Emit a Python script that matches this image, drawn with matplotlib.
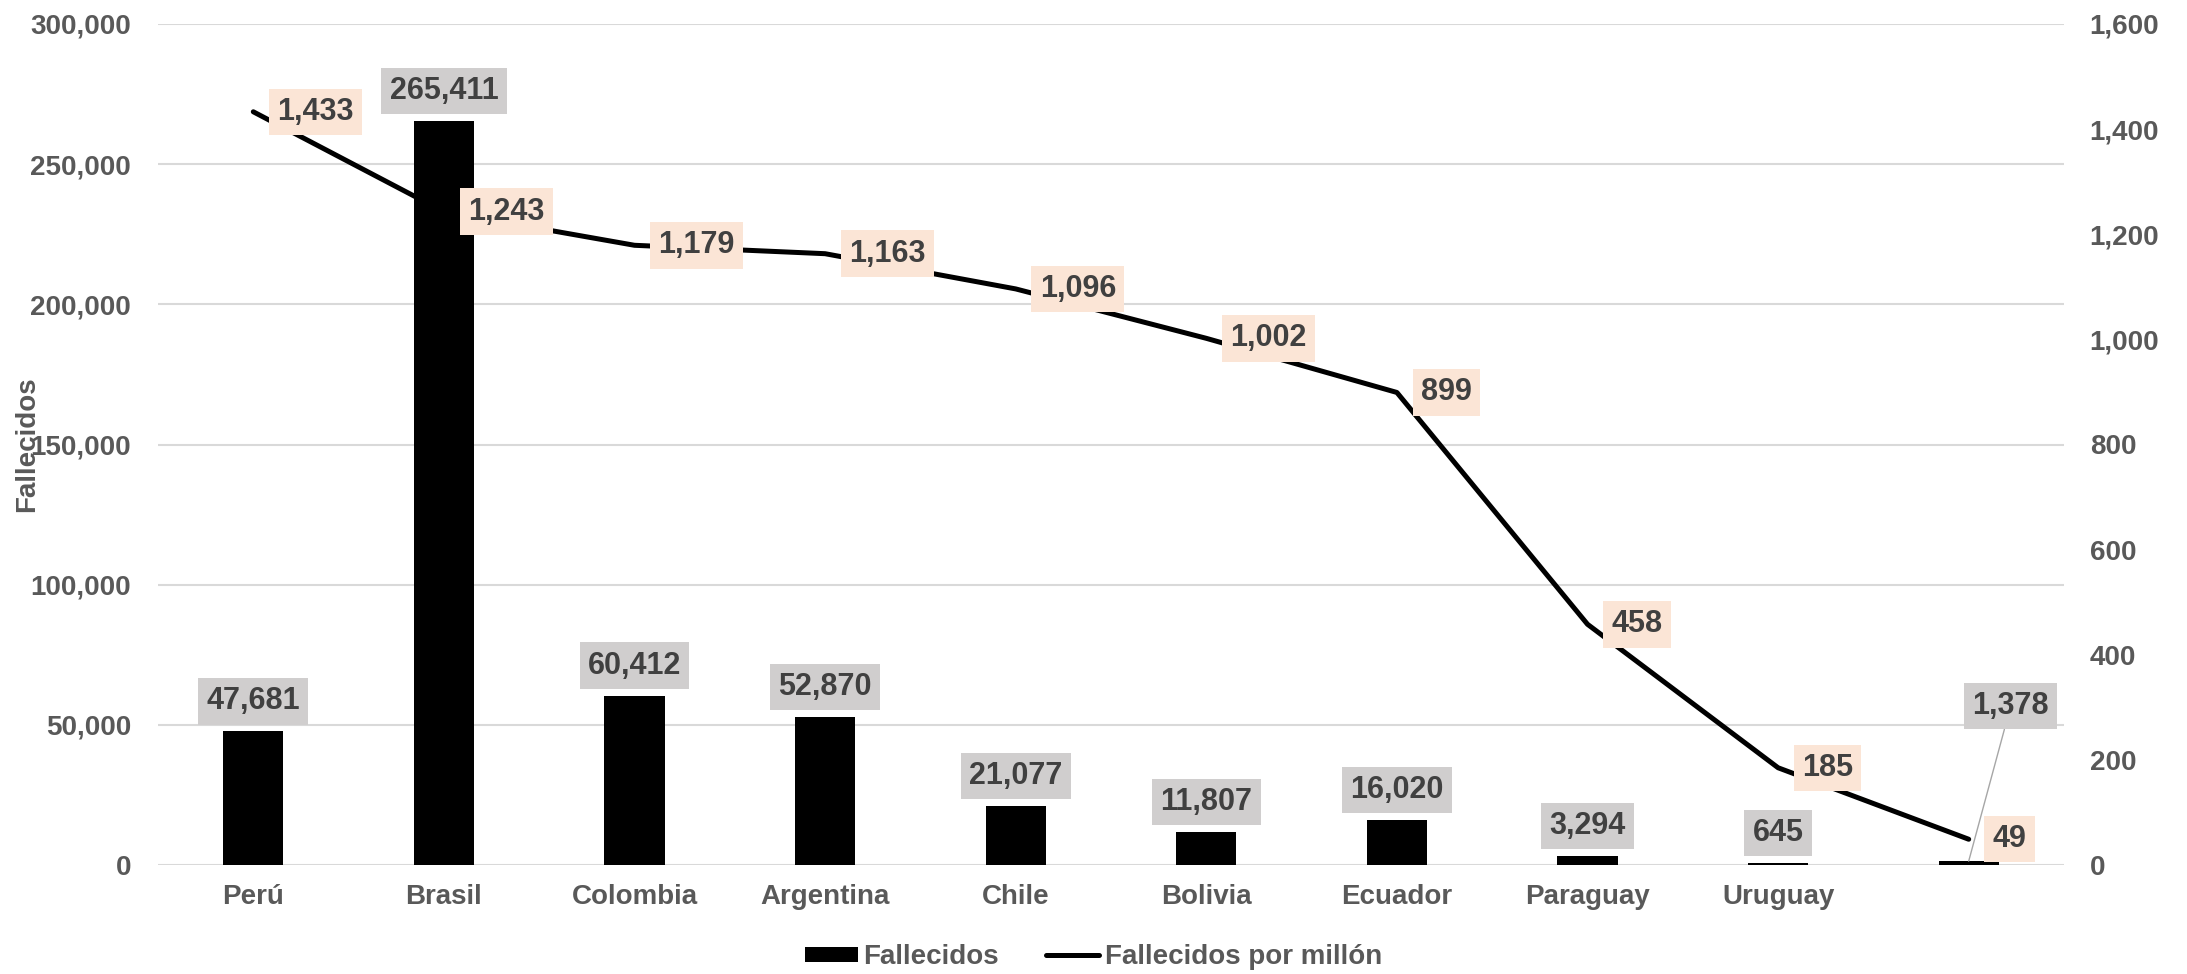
import matplotlib
matplotlib.use("Agg")
import matplotlib.pyplot as plt
from matplotlib.ticker import FuncFormatter, MultipleLocator

plt.rcParams['font.family'] = ['Liberation Sans', 'DejaVu Sans']
plt.rcParams['font.weight'] = 'bold'

categories = ["Perú", "Brasil", "Colombia", "Argentina", "Chile", "Bolivia",
              "Ecuador", "Paraguay", "Uruguay", ""]
fallecidos = [47681, 265411, 60412, 52870, 21077, 11807, 16020, 3294, 645, 1378]
por_millon = [1433, 1243, 1179, 1163, 1096, 1002, 899, 458, 185, 49]

TICK_COLOR = "#595959"
LABEL_COLOR = "#404040"
GREY_BOX = "#D0CECE"
PEACH_BOX = "#FBE5D6"
GRID = "#D9D9D9"

W, H = 2187, 974
fig = plt.figure(figsize=(W / 100, H / 100), dpi=100)
left, right, top, bottom = 158, 2064, 24, 865
ax1 = fig.add_axes([left / W, 1 - bottom / H, (right - left) / W, (bottom - top) / H])
ax2 = ax1.twinx()

x = list(range(len(categories)))
bars = ax1.bar(x, fallecidos, width=0.315, color="black", label="Fallecidos", zorder=2)
line, = ax2.plot(x, por_millon, color="black", lw=3.6, solid_capstyle="round",
                 label="Fallecidos por millón", zorder=3)

ax1.set_xlim(-0.5, len(categories) - 0.5)
ax1.set_ylim(0, 300000)
ax2.set_ylim(0, 1600)
ax1.yaxis.set_major_locator(MultipleLocator(50000))
ax2.yaxis.set_major_locator(MultipleLocator(200))
fmt = FuncFormatter(lambda v, p: f"{int(v):,}")
ax1.yaxis.set_major_formatter(fmt)
ax2.yaxis.set_major_formatter(fmt)

ax1.set_xticks(x)
ax1.set_xticklabels(categories)
ax1.grid(axis="y", color=GRID, lw=1.5, zorder=0)
ax1.set_axisbelow(True)
for ax in (ax1, ax2):
    for s in ax.spines.values():
        s.set_visible(False)
ax1.tick_params(axis="y", length=0, pad=19.5, labelsize=20, labelcolor=TICK_COLOR)
ax2.tick_params(axis="y", length=0, pad=18.5, labelsize=20, labelcolor=TICK_COLOR)
ax1.tick_params(axis="x", length=0, pad=14, labelsize=20, labelcolor=TICK_COLOR)
for lab in ax1.get_xticklabels() + ax1.get_yticklabels() + ax2.get_yticklabels():
    lab.set_fontweight("bold")

fig.text(27 / W, 1 - 444.5 / H, "Fallecidos", rotation=90, ha="center", va="center",
         fontsize=20, color=TICK_COLOR, fontweight="bold")

PAD = 0.27
# bar labels
for i, v in enumerate(fallecidos):
    if i == len(fallecidos) - 1:
        ax2.annotate(f"{v:,}", xy=(i, v), xycoords=ax1.transData,
                     xytext=(42, 155), textcoords="offset pixels",
                     ha="center", va="center", fontsize=22, fontweight="bold",
                     color=LABEL_COLOR, zorder=5,
                     bbox=dict(boxstyle=f"square,pad={PAD}", fc=GREY_BOX, ec="none"),
                     arrowprops=dict(arrowstyle="-", color="#A6A6A6", lw=1.0,
                                     shrinkA=0, shrinkB=0))
    else:
        ax2.annotate(f"{v:,}", xy=(i, v), xycoords=ax1.transData,
                     xytext=(0, 30), textcoords="offset pixels",
                     ha="center", va="center", fontsize=22, fontweight="bold",
                     color=LABEL_COLOR, zorder=5,
                     bbox=dict(boxstyle=f"square,pad={PAD}", fc=GREY_BOX, ec="none"))

# line labels
for i, v in enumerate(por_millon):
    ax2.annotate(f"{v:,}", xy=(i, v), xycoords=ax2.transData,
                 xytext=(24, 0), textcoords="offset pixels",
                 ha="left", va="center", fontsize=22, fontweight="bold",
                 color=LABEL_COLOR, zorder=5,
                 bbox=dict(boxstyle=f"square,pad={PAD}", fc=PEACH_BOX, ec="none"))

leg = fig.legend(handles=[bars, line], labels=["Fallecidos", "Fallecidos por millón"],
                 loc="center", bbox_to_anchor=(0.5, 1 - 957 / H), ncol=2, frameon=False,
                 fontsize=20, handlelength=1.9, handleheight=0.45, handletextpad=0.2,
                 columnspacing=1.7)
for t in leg.get_texts():
    t.set_color(TICK_COLOR)
    t.set_fontweight("bold")

fig.savefig("out.png", dpi=100)
